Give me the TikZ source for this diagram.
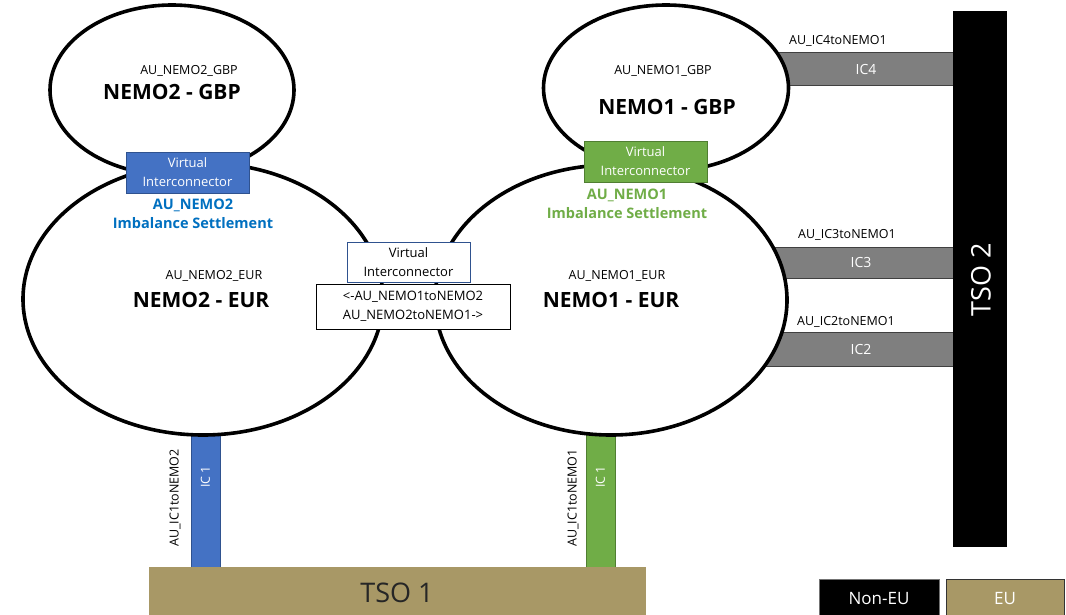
\documentclass[tikz,border=0pt]{standalone}
\usepackage{fontspec}
\setmainfont{Open Sans}
\usetikzlibrary{shapes.geometric}

\definecolor{icgray}{HTML}{7F7F7F}
\definecolor{icblue}{HTML}{4472C4}
\definecolor{icblueline}{HTML}{2F528F}
\definecolor{icgreen}{HTML}{70AD47}
\definecolor{icgreenline}{HTML}{507E32}
\definecolor{eutan}{HTML}{A89866}
\definecolor{settleblue}{HTML}{0070C0}

\newcommand{\fs}[2]{\fontsize{#1}{#2}\selectfont}

\tikzset{
  market/.style={ellipse, draw=black, line width=3.6pt, fill=white, inner sep=0pt},
  bar/.style={fill=icgray, draw=black!75, line width=0.8pt},
  vbox/.style={draw, line width=1pt, inner sep=0pt, align=center, font=\fs{13}{19}, text=white},
  small/.style={font=\fs{12.5}{15}, inner sep=0pt},
  big/.style={font=\bfseries\fs{21}{25}, inner sep=0pt},
  settle/.style={font=\bfseries\fs{14.5}{19}, align=center, inner sep=0pt},
}

\begin{document}
\begin{tikzpicture}[x=1pt,y=-1pt]
\useasboundingbox (0,0) rectangle (1066,614);

% interconnector bars to TSO 2 (behind the markets)
\path[bar] (760,52) rectangle (953,85);
\path[bar] (760,247) rectangle (953,278);
\path[bar] (760,332) rectangle (953,366);
% IC 1 links down to TSO 1
\path[fill=icblue, draw=icblueline, line width=0.8pt] (191,420) rectangle (220,567);
\path[fill=icgreen, draw=icgreenline, line width=0.8pt] (586,420) rectangle (615,567);

% TSO blocks
\node[fill=black, minimum width=54pt, minimum height=536pt, inner sep=0pt] (tso2) at (980,279) {};
\node[text=white, rotate=90, font=\fs{27}{32}, inner sep=0pt] (tso2lbl) at (981,280) {TSO 2};
\path[fill=eutan] (149,567) rectangle (646,620);
\node[font=\fs{27}{32}, text=black!85, inner sep=0pt] (tso1lbl) at (397,593) {TSO 1};

% markets
\node[market, minimum width=244pt, minimum height=170pt] (n2gbp) at (172,90) {};
\node[market, minimum width=245pt, minimum height=166pt] (n1gbp) at (666,88) {};
\node[market, minimum width=360pt, minimum height=272pt] (n2eur) at (203,299) {};
\node[market, minimum width=352pt, minimum height=270pt] (n1eur) at (611,300) {};

\node[small] (a2gbp) at (189,71) {AU\_NEMO2\_GBP};
\node[big] (t2gbp) at (172,92) {NEMO2 - GBP};
\node[small] (a1gbp) at (663,71) {AU\_NEMO1\_GBP};
\node[big] (t1gbp) at (667,107) {NEMO1 - GBP};
\node[small] (a2eur) at (214,276) {AU\_NEMO2\_EUR};
\node[big] (t2eur) at (201,300) {NEMO2 - EUR};
\node[small] (a1eur) at (617,276) {AU\_NEMO1\_EUR};
\node[big] (t1eur) at (611,300) {NEMO1 - EUR};

% virtual interconnectors
\node[vbox, fill=icblue, draw=icblueline, minimum width=123pt, minimum height=41pt] (vi2) at (187.5,172.5) {Virtual\\Interconnector};
\node[vbox, fill=icgreen, draw=icgreenline, minimum width=123pt, minimum height=41pt] (vi1) at (645.5,161.5) {Virtual\\Interconnector};
\node[vbox, fill=white, draw=icblueline, text=black, minimum width=123pt, minimum height=40pt] (vi12) at (408.5,262) {Virtual\\Interconnector};
\node[vbox, fill=white, draw=black, text=black, minimum width=194pt, minimum height=45pt] (vilbl) at (413,306.5) {<-AU\_NEMO1toNEMO2\\AU\_NEMO2toNEMO1->};

\node[settle, text=settleblue] (s2) at (193,214) {AU\_NEMO2\\Imbalance Settlement};
\node[settle, text=icgreen] (s1) at (627,204) {AU\_NEMO1\\Imbalance Settlement};

% bar labels
\node[text=white, font=\fs{14}{17}, inner sep=0pt] (ic4) at (866,69) {IC4};
\node[text=white, font=\fs{14}{17}, inner sep=0pt] (ic3) at (861,262) {IC3};
\node[text=white, font=\fs{14}{17}, inner sep=0pt] (ic2) at (861,349) {IC2};
\node[small] (l4) at (838,41) {AU\_IC4toNEMO1};
\node[small] (l3) at (847,235) {AU\_IC3toNEMO1};
\node[small] (l2) at (846,322) {AU\_IC2toNEMO1};

\node[text=white, rotate=90, font=\fs{12.5}{15}, inner sep=0pt] (ic1b) at (205.5,477) {IC 1};
\node[text=white, rotate=90, font=\fs{12.5}{15}, inner sep=0pt] (ic1g) at (600.5,477) {IC 1};
\node[small, rotate=90] (l1b) at (175,498) {AU\_IC1toNEMO2};
\node[small, rotate=90] (l1g) at (573,498) {AU\_IC1toNEMO1};

% legend
\node[fill=black, draw=black!55, line width=0.6pt, minimum width=120pt, minimum height=40pt, inner sep=0pt] (noneu) at (879,599) {};
\node[text=white, font=\fs{17}{20}, inner sep=0pt] (noneulbl) at (879,599) {Non-EU};
\node[fill=eutan, draw=black!80, line width=0.8pt, minimum width=118pt, minimum height=40pt, inner sep=0pt] (eu) at (1005,599) {};
\node[text=white, font=\fs{17}{20}, inner sep=0pt] (eulbl) at (1005,599) {EU};
\end{tikzpicture}
\end{document}
